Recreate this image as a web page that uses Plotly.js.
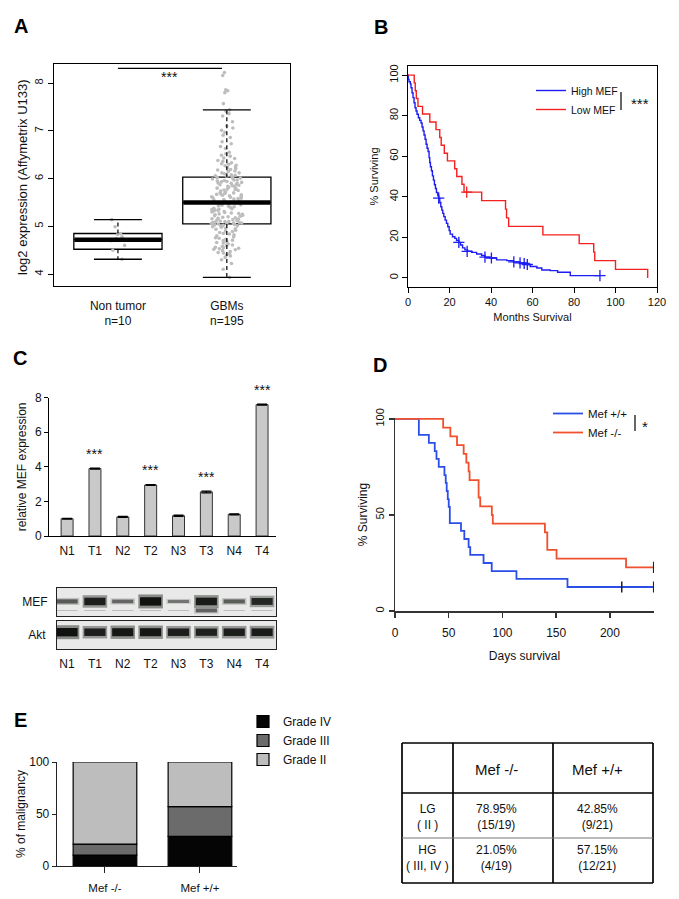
<!DOCTYPE html>
<html>
<head>
<meta charset="utf-8">
<script src="https://cdn.plot.ly/plotly-3.0.1.min.js"></script>
<style>
  html, body { margin: 0; padding: 0; background: #fff; }
  #fig { width: 679px; height: 899px; }
</style>
</head>
<body>
<div id="fig"></div>
<script>
// ---- A: box plot, log2 expression
const groupsA = ['Non tumor<br>n=10', 'GBMs<br>n=195'];
const posA = [1, 2];
const boxQ1 = [4.52, 5.05];
const boxMed = [4.72, 5.5];
const boxQ3 = [4.85, 6.03];
const boxLo = [4.31, 3.93];
const boxHi = [5.14, 7.44];
const nonTumor = [5.14, 4.99, 4.85, 4.83, 4.78, 4.74, 4.7, 4.6, 4.5, 4.31];
const gbm = [
  8.22, 8.16, 7.86, 7.84, 7.8, 7.57,
  7.44, 7.41, 7.36, 7.31, 7.19, 7.1, 7.06, 7.01,
  6.97, 6.91, 6.86, 6.77, 6.73, 6.67, 6.63, 6.55, 6.52,
  6.49, 6.47, 6.43, 6.42, 6.38, 6.36, 6.33, 6.31, 6.3, 6.28, 6.27, 6.24, 6.23,
  6.21, 6.19, 6.18, 6.16, 6.15, 6.12, 6.12, 6.1, 6.08, 6.07, 6.06, 6.05, 6.04,
  6.02, 6.01, 6.0, 5.99, 5.97, 5.97, 5.96, 5.95, 5.94, 5.93, 5.92, 5.91, 5.9, 5.9,
  5.88, 5.87, 5.86, 5.85, 5.84, 5.83, 5.82, 5.8, 5.79, 5.78, 5.77, 5.76, 5.75,
  5.74, 5.72, 5.71, 5.7, 5.69, 5.68, 5.67, 5.66, 5.65, 5.64, 5.63, 5.62, 5.61,
  5.6, 5.59, 5.58, 5.57, 5.56, 5.55, 5.53, 5.52, 5.5,
  5.49, 5.48, 5.46, 5.45, 5.44, 5.43, 5.42, 5.41, 5.4, 5.38, 5.37, 5.36, 5.35,
  5.34, 5.33, 5.32, 5.31, 5.3, 5.29, 5.28, 5.27, 5.26, 5.25, 5.24, 5.23, 5.22,
  5.21, 5.2, 5.19, 5.18, 5.17, 5.16, 5.15, 5.14, 5.13, 5.12, 5.11, 5.1, 5.1,
  5.09, 5.08, 5.08, 5.07, 5.07, 5.06, 5.06, 5.05, 5.05,
  5.04, 5.03, 5.02, 5.01, 5.0, 4.99, 4.98, 4.96, 4.95, 4.94, 4.92, 4.9, 4.89,
  4.87, 4.85, 4.84, 4.82, 4.8, 4.78, 4.76, 4.75, 4.73, 4.71, 4.7, 4.68, 4.66,
  4.65, 4.63, 4.61, 4.6, 4.58, 4.56, 4.55, 4.54, 4.53, 4.52, 4.51,
  4.49, 4.47, 4.45, 4.44, 4.42, 4.4, 4.38, 4.35, 4.3, 4.22, 4.1, 3.93
];

// ---- B: Kaplan-Meier, months
const highMonths = [0, 0.16, 0.48, 1.13, 1.45, 1.94, 2.42, 2.91, 3.39, 3.88, 4.36, 5.0,
  5.65, 6.29, 6.77, 7.26, 7.74, 8.23, 8.71, 9.19, 9.68, 10.16, 10.48, 10.81, 11.29,
  11.77, 12.26, 12.74, 13.23, 13.71, 14.35, 14.84, 15.32, 15.81, 16.29, 16.77, 17.26,
  17.9, 18.55, 19.19, 19.84, 20.32, 21.45, 22.58, 23.39, 24.52, 25.32, 26.29, 27.42,
  28.71, 30.65, 33.06, 35.48, 37.1, 39.5, 42.7, 47.6, 50.8, 54.0, 57.3, 58.9, 62.1,
  64.5, 68.5, 72.1, 78.2, 92.5];
const highSurv = [100, 97.9, 96.7, 95.7, 93.8, 91.3, 88.9, 86.4, 83.9, 82.3, 80.7, 79.0,
  77.7, 76.4, 74.4, 72.5, 70.5, 68.4, 65.9, 63.9, 62.3, 59.3, 56.9, 54.8, 52.8,
  50.3, 48.2, 45.9, 44.1, 42.1, 40.5, 39.3, 37.2, 35.1, 33.4, 31.8, 30.2,
  28.5, 26.9, 25.2, 23.3, 21.6, 20.3, 19.5, 18.4, 17.5, 16.2, 14.8, 13.8,
  13.1, 12.6, 11.8, 11.0, 10.2, 9.8, 8.9, 8.5, 7.9, 7.4, 6.6, 5.6, 4.9,
  3.9, 3.6, 2.8, 1.1, 1.1];
const highCensM = [14.8, 24.5, 28.5, 37.1, 40.2, 51.0, 54.0, 56.0, 57.5, 92.5];
const highCensS = [39.3, 17.5, 13.1, 10.2, 9.8, 7.9, 7.4, 7.1, 6.6, 1.1];
const lowMonths = [0, 3.0, 3.5, 4.0, 4.8, 7.0, 10.5, 13.5, 15.3, 16.0, 17.5, 19.0,
  22.5, 23.5, 26.0, 27.0, 35.5, 47.0, 47.5, 48.5, 65.0, 82.5, 89.5, 90.0, 100.0, 115.5];
const lowSurv = [100, 96.2, 92.3, 88.5, 84.6, 80.8, 76.9, 73.1, 69.2, 65.4, 61.5, 57.7,
  53.8, 50, 46.2, 42.3, 38.1, 33.9, 29.6, 25.4, 21.2, 16.9, 12.7, 8.5, 4.2, 0];
const lowCensM = [28.3];
const lowCensS = [42.3];

// ---- C: qPCR bars + western blot
const lanes = ['N1', 'T1', 'N2', 'T2', 'N3', 'T3', 'N4', 'T4'];
const relExpr = [1.0, 3.9, 1.1, 2.95, 1.17, 2.55, 1.25, 7.6];
const relErr = [0.02, 0.03, 0.03, 0.02, 0.04, 0.05, 0.03, 0.03];
const relStars = ['', '***', '', '***', '', '***', '', '***'];
const mefBand = [0.45, 0.88, 0.38, 1.0, 0.3, 0.9, 0.42, 0.8];
const mefLowBand = [0, 0, 0, 0, 0, 0.4, 0, 0];
const aktBand = [1.0, 0.88, 0.95, 0.95, 0.88, 0.85, 0.88, 0.9];

// ---- D: Kaplan-Meier, days
const wtDays = [0, 22.2, 31.5, 37, 38.6, 40.7, 46, 47.2, 48.1, 49.1, 50, 51, 61.4, 64.5,
  68.5, 70, 82.4, 90, 113, 160.5, 240.7];
const wtSurv = [100, 91.7, 87.5, 83.3, 79.2, 75, 70.8, 66.7, 62.5, 58.3, 54.2, 45.8, 41.7,
  37.5, 33.3, 29.2, 25, 20.8, 16.7, 12.5, 12.5];
const wtCensD = [211, 240.7];
const wtCensS = [12.5, 12.5];
const koDays = [0, 44.8, 51.5, 57.7, 63.9, 66.4, 68.5, 69.4, 77.8, 79.3, 90.1, 91, 139.5,
  141.7, 150.3, 215, 240.7];
const koSurv = [100, 95.5, 90.9, 86.4, 81.8, 77.3, 72.7, 68.2, 59.1, 54.5, 50, 45.5, 40.9,
  31.8, 27.3, 22.7, 22.7];
const koCensD = [240.7];
const koCensS = [22.7];

// ---- E: grade stacks + table
const genotypes = ['Mef -/-', 'Mef +/+'];
const gradeIV = [10.53, 28.57];
const gradeIII = [10.53, 28.57];
const gradeII = [78.95, 42.86];
const tableHeader = ['', 'Mef -/-', 'Mef +/+'];
const tableRows = ['LG<br>( II )', 'HG<br>( III, IV )'];
const tableKO = ['78.95%<br>(15/19)', '21.05%<br>(4/19)'];
const tableWT = ['42.85%<br>(9/21)', '57.15%<br>(12/21)'];

const FONT = 'Liberation Sans, Arial, sans-serif';
const fx = p => p / 679;
const fy = p => 1 - p / 899;
const f = (size) => ({ size, color: '#111', family: FONT });

function ax(extra) {
  return Object.assign({
    showgrid: false, zeroline: false, showline: true, linecolor: '#000', linewidth: 1,
    ticks: 'outside', ticklen: 4, tickcolor: '#000', tickwidth: 1,
    tickfont: f(11), fixedrange: true
  }, extra);
}

const traces = [];

// A
traces.push({
  type: 'box', x: posA, q1: boxQ1, median: boxMed, q3: boxQ3,
  lowerfence: boxQ1, upperfence: boxQ3, width: 0.81, boxpoints: false,
  fillcolor: '#fff', line: { color: '#000', width: 1.3 },
  xaxis: 'x', yaxis: 'y', showlegend: false, hoverinfo: 'skip'
});
[[nonTumor, 0.2], [gbm, 0.36]].forEach(([vals, jit], i) => {
  traces.push({
    type: 'box', y: vals, x0: posA[i], width: 0.81, boxpoints: 'all', jitter: jit, pointpos: 0,
    fillcolor: 'rgba(0,0,0,0)', line: { width: 0, color: 'rgba(0,0,0,0)' },
    marker: { color: '#bdbdbd', size: 3.6 },
    xaxis: 'x', yaxis: 'y', showlegend: false, hoverinfo: 'skip'
  });
});
const whX = [], whY = [], capX = [], capY = [], medX = [], medY = [];
posA.forEach((p, i) => {
  whX.push(p, p, null, p, p, null);
  whY.push(boxQ3[i], boxHi[i], null, boxQ1[i], boxLo[i], null);
  capX.push(p - 0.22, p + 0.22, null, p - 0.22, p + 0.22, null);
  capY.push(boxHi[i], boxHi[i], null, boxLo[i], boxLo[i], null);
  medX.push(p - 0.4, p + 0.4, null);
  medY.push(boxMed[i], boxMed[i], null);
});
traces.push({ type: 'scatter', mode: 'lines', x: whX, y: whY, line: { color: '#000', width: 1.2, dash: '4px,3px' },
  xaxis: 'x', yaxis: 'y', showlegend: false, hoverinfo: 'skip' });
traces.push({ type: 'scatter', mode: 'lines', x: capX, y: capY, line: { color: '#000', width: 1.3 },
  xaxis: 'x', yaxis: 'y', showlegend: false, hoverinfo: 'skip' });
traces.push({ type: 'scatter', mode: 'lines', x: medX, y: medY, line: { color: '#000', width: 4.5 },
  xaxis: 'x', yaxis: 'y', showlegend: false, hoverinfo: 'skip' });

// B
const bBlue = '#1c1cf5', bRed = '#f52020';
traces.push({ type: 'scatter', mode: 'lines', name: 'High MEF', x: highMonths, y: highSurv,
  line: { color: bBlue, width: 1.4, shape: 'hv' }, xaxis: 'x2', yaxis: 'y2', legend: 'legend' });
traces.push({ type: 'scatter', mode: 'lines', name: 'Low MEF', x: lowMonths, y: lowSurv,
  line: { color: bRed, width: 1.4, shape: 'hv' }, xaxis: 'x2', yaxis: 'y2', legend: 'legend' });
traces.push({ type: 'scatter', mode: 'markers', x: highCensM, y: highCensS, xaxis: 'x2', yaxis: 'y2',
  marker: { symbol: 'cross-thin-open', size: 8, color: bBlue, line: { color: bBlue, width: 1.3 } }, showlegend: false });
traces.push({ type: 'scatter', mode: 'markers', x: lowCensM, y: lowCensS, xaxis: 'x2', yaxis: 'y2',
  marker: { symbol: 'cross-thin-open', size: 8, color: bRed, line: { color: bRed, width: 1.3 } }, showlegend: false });

// C bars
traces.push({
  type: 'bar', x: lanes.map((_, i) => i), y: relExpr, width: 0.43,
  marker: { color: '#c9c9c9', line: { color: '#333', width: 1 } },
  error_y: { type: 'data', array: relErr, visible: true, color: '#000', thickness: 1.2, width: 5 },
  xaxis: 'x3', yaxis: 'y3', showlegend: false, hoverinfo: 'skip'
});

// C blot (bands as floating bars: soft halo + dark core)
function bandTraces(vals, center, xa, ya) {
  const idx = vals.map((_, i) => i);
  const outerH = vals.map(v => 0.05 + 0.45 * v);
  const innerH = outerH.map(h => 0.6 * h);
  return [
    { type: 'bar', x: idx, y: outerH, base: outerH.map(h => center - h / 2), width: 0.88,
      marker: { color: vals.map(v => `rgba(40,44,40,${(0.5 * v).toFixed(3)})`), line: { width: 0 } },
      xaxis: xa, yaxis: ya, showlegend: false, hoverinfo: 'skip' },
    { type: 'bar', x: idx, y: innerH, base: innerH.map(h => center - h / 2), width: 0.76,
      marker: { color: vals.map(v => `rgba(15,18,15,${(0.25 + 0.75 * v).toFixed(3)})`), line: { width: 0 } },
      xaxis: xa, yaxis: ya, showlegend: false, hoverinfo: 'skip' }
  ];
}
traces.push(...bandTraces(mefBand, 0.52, 'x4', 'y4'));
traces.push(...bandTraces(mefLowBand, 0.2, 'x4', 'y4'));
traces.push(...bandTraces(aktBand, 0.6, 'x5', 'y5'));

// D
const dBlue = '#2b4fe6', dRed = '#f0502d';
traces.push({ type: 'scatter', mode: 'lines', name: 'Mef +/+', x: wtDays, y: wtSurv,
  line: { color: dBlue, width: 1.8, shape: 'hv' }, xaxis: 'x6', yaxis: 'y6', legend: 'legend2' });
traces.push({ type: 'scatter', mode: 'lines', name: 'Mef -/-', x: koDays, y: koSurv,
  line: { color: dRed, width: 1.8, shape: 'hv' }, xaxis: 'x6', yaxis: 'y6', legend: 'legend2' });
traces.push({ type: 'scatter', mode: 'markers', x: wtCensD, y: wtCensS, xaxis: 'x6', yaxis: 'y6',
  marker: { symbol: 'line-ns-open', size: 8, color: '#222', line: { color: '#222', width: 1.5 } }, showlegend: false });
traces.push({ type: 'scatter', mode: 'markers', x: koCensD, y: koCensS, xaxis: 'x6', yaxis: 'y6',
  marker: { symbol: 'line-ns-open', size: 8, color: '#222', line: { color: '#222', width: 1.5 } }, showlegend: false });

// E stacked bars (bases built from the grade arrays)
const baseIII = gradeIV.slice();
const baseII = gradeIV.map((v, i) => v + gradeIII[i]);
[['Grade IV', gradeIV, null, '#050505'], ['Grade III', gradeIII, baseIII, '#6b6b6b'],
 ['Grade II', gradeII, baseII, '#bdbdbd']].forEach(([name, vals, base, col]) => {
  const t = { type: 'bar', name, x: [0, 1], y: vals, width: 0.67,
    marker: { color: col, line: { color: '#000', width: 1.2 } },
    xaxis: 'x7', yaxis: 'y7', legend: 'legend3', hoverinfo: 'skip' };
  if (base) t.base = base;
  traces.push(t);
});

// annotations (paper ones centred on their point)
const ann = [];
function note(text, x, y, font, extra) {
  ann.push(Object.assign({ text, x: fx(x), y: fy(y), xref: 'paper', yref: 'paper',
    xanchor: 'center', yanchor: 'middle', showarrow: false, font }, extra || {}));
}
const bold = { size: 20, color: '#000', family: FONT };
note('<b>A</b>', 21, 26, bold); note('<b>B</b>', 381, 27, bold); note('<b>C</b>', 20, 358, bold);
note('<b>D</b>', 380, 365, bold); note('<b>E</b>', 20, 720, bold);
note('log2 expression (Affymetrix U133)', 23, 177, f(13), { textangle: -90 });
note('***', 640, 104, f(15));
note('*', 645, 426, f(15));
ann.push({ text: '***', x: 1.47, y: 8.13, xref: 'x', yref: 'y', showarrow: false, font: f(14) });
relStars.forEach((s, i) => {
  if (!s) return;
  ann.push({ text: s, x: i, y: relExpr[i], xref: 'x3', yref: 'y3', yanchor: 'bottom', yshift: 5,
    showarrow: false, font: f(14) });
});

const shapes = [
  { type: 'line', xref: 'x', yref: 'y', x0: 1.0, x1: 1.955, y0: 8.31, y1: 8.31, line: { color: '#000', width: 1.2 } },
  { type: 'line', xref: 'paper', yref: 'paper', x0: fx(621), x1: fx(621), y0: fy(92), y1: fy(110), line: { color: '#000', width: 1.2 } },
  { type: 'line', xref: 'paper', yref: 'paper', x0: fx(635), x1: fx(635), y0: fy(415), y1: fy(431), line: { color: '#000', width: 1.2 } },
  { type: 'rect', xref: 'x4 domain', yref: 'y4 domain', x0: 0, x1: 1, y0: 0, y1: 1, fillcolor: '#e9e9e9', line: { width: 0 }, layer: 'below' },
  { type: 'rect', xref: 'x5 domain', yref: 'y5 domain', x0: 0, x1: 1, y0: 0, y1: 1, fillcolor: '#e9e9e9', line: { width: 0 }, layer: 'below' }
];

// table grid + cell text (E, right)
const tCols = [402, 453, 553, 653];
const tRows = [743, 793, 838, 883];
tCols.forEach(c => shapes.push({ type: 'line', xref: 'paper', yref: 'paper', x0: fx(c), x1: fx(c),
  y0: fy(tRows[0]), y1: fy(tRows[3]), line: { color: '#000', width: 1.7 } }));
tRows.forEach((r, k) => shapes.push({ type: 'line', xref: 'paper', yref: 'paper', x0: fx(tCols[0]), x1: fx(tCols[3]),
  y0: fy(r), y1: fy(r), line: k === 2 ? { color: '#777', width: 1 } : { color: '#000', width: 1.7 } }));
const colMid = [0, 1, 2].map(j => (tCols[j] + tCols[j + 1]) / 2 - (j ? 6 : 0));
tableHeader.forEach((h, j) => {
  if (h) note(h, colMid[j], 769, f(15));
});
[tableRows, tableKO, tableWT].forEach((col, j) => {
  col.forEach((txt, i) => note(txt, colMid[j], i ? 858 : 817, f(12), { align: 'center' }));
});

const layout = {
  width: 679, height: 899, margin: { l: 0, r: 0, t: 0, b: 0 },
  paper_bgcolor: '#fff', plot_bgcolor: 'rgba(0,0,0,0)',
  font: { family: FONT, color: '#111' },
  barmode: 'overlay', boxmode: 'overlay', hovermode: false,
  annotations: ann, shapes: shapes,
  // A
  xaxis: ax({ domain: [fx(54), fx(290)], range: [0.413, 2.58], type: 'linear', anchor: 'y',
    tickvals: posA, ticktext: groupsA, ticks: '', mirror: true, linewidth: 1.2, ticklabelstandoff: 8, tickfont: f(12) }),
  yaxis: ax({ domain: [fy(286), fy(64)], range: [3.75, 8.4], anchor: 'x', tickvals: [4, 5, 6, 7, 8],
    tickangle: -90, mirror: true, linewidth: 1.2, ticklen: 5 }),
  // B
  xaxis2: ax({ domain: [fx(408), fx(657)], range: [0, 120], anchor: 'y2', dtick: 20, mirror: true, ticklen: 5,
    title: { text: 'Months Survival', font: f(11), standoff: 6 } }),
  yaxis2: ax({ domain: [fy(287), fy(66)], range: [-4.5, 104.5], anchor: 'x2', dtick: 20, tickangle: -90,
    mirror: true, ticklen: 5, title: { text: '% Surviving', font: f(11), standoff: 6 } }),
  // C bars
  xaxis3: ax({ domain: [fx(49), fx(276)], range: [-0.65, 7.5], anchor: 'y3', tickvals: lanes.map((_, i) => i),
    ticktext: lanes, ticks: '', tickfont: f(12), ticklabelstandoff: 4 }),
  yaxis3: ax({ domain: [fy(536), fy(397.7)], range: [0, 8], anchor: 'x3', dtick: 2, tickfont: f(12),
    title: { text: 'relative MEF expression', font: f(12), standoff: 5 } }),
  // C blot strips
  xaxis4: ax({ domain: [fx(57), fx(276)], range: [-0.36, 7.5], anchor: 'y4', showticklabels: false, ticks: '', mirror: true, linecolor: '#222' }),
  yaxis4: ax({ domain: [fy(616), fy(588)], range: [0, 1], anchor: 'x4', tickvals: [0.5], ticktext: ['MEF'], ticks: '',
    mirror: true, linecolor: '#222', tickfont: f(12), ticklabelstandoff: 6 }),
  xaxis5: ax({ domain: [fx(57), fx(276)], range: [-0.36, 7.5], anchor: 'y5', tickvals: lanes.map((_, i) => i),
    ticktext: lanes, ticks: '', mirror: true, linecolor: '#222', tickfont: f(12), ticklabelstandoff: 4 }),
  yaxis5: ax({ domain: [fy(649), fy(621)], range: [0, 1], anchor: 'x5', tickvals: [0.5], ticktext: ['Akt'], ticks: '',
    mirror: true, linecolor: '#222', tickfont: f(12), ticklabelstandoff: 8 }),
  // D
  xaxis6: ax({ domain: [fx(395), fx(654)], range: [0, 241], anchor: 'y6', tickvals: [0, 50, 100, 150, 200],
    linecolor: '#333', linewidth: 1.5, tickcolor: '#333', tickwidth: 1.5, ticklen: 5,
    tickfont: f(12), ticklabelstandoff: 5,
    title: { text: 'Days survival', font: f(12), standoff: 12 } }),
  yaxis6: ax({ domain: [fy(611), fy(418)], range: [0, 100.5], anchor: 'x6', tickvals: [0, 50, 100], tickangle: -90,
    linecolor: '#333', linewidth: 1.5, tickcolor: '#333', tickwidth: 1.5, ticklen: 5, tickfont: f(11),
    title: { text: '% Surviving', font: f(12), standoff: 4 } }),
  // E
  xaxis7: ax({ domain: [fx(57), fx(237)], range: [-0.505, 1.39], anchor: 'y7', tickvals: [0, 1], ticktext: genotypes,
    linecolor: '#222', linewidth: 1.3, tickcolor: '#222', ticklen: 6, ticklabelstandoff: 5, tickfont: f(11.5) }),
  yaxis7: ax({ domain: [fy(866), fy(762)], range: [0, 100], anchor: 'x7', tickvals: [0, 50, 100],
    linecolor: '#222', linewidth: 1.3, tickcolor: '#222', tickfont: f(12),
    title: { text: '% of malignancy', font: f(12), standoff: 1 } }),
  legend: { x: fx(531), y: fy(76), xanchor: 'left', yanchor: 'top', bgcolor: 'rgba(0,0,0,0)', font: f(10.5) },
  legend2: { x: fx(548), y: fy(399), xanchor: 'left', yanchor: 'top', bgcolor: 'rgba(0,0,0,0)', font: f(11.5) },
  legend3: { x: fx(243), y: fy(707), xanchor: 'left', yanchor: 'top', bgcolor: 'rgba(0,0,0,0)', font: f(12) }
};

Plotly.newPlot('fig', traces, layout, { displayModeBar: false, staticPlot: true });
</script>
</body>
</html>
